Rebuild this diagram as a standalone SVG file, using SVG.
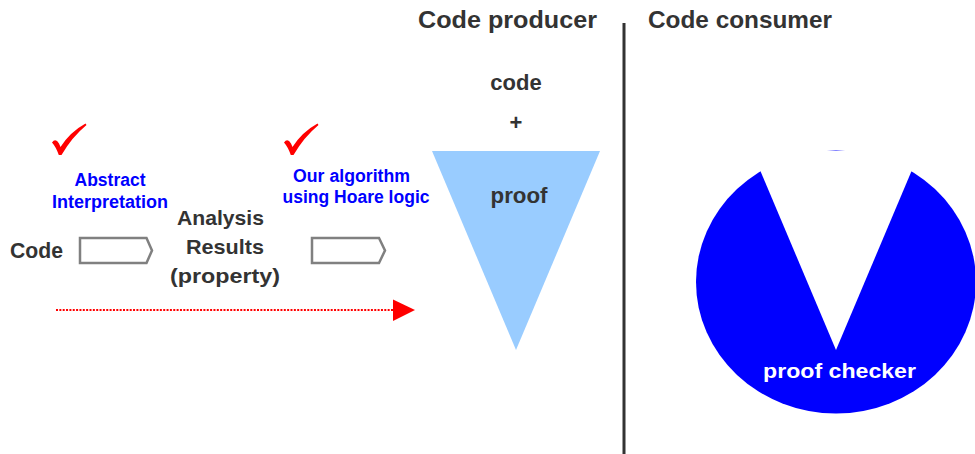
<svg xmlns="http://www.w3.org/2000/svg" width="975" height="454" viewBox="0 0 975 454">
<defs>
<style>
.t{font-family:"Liberation Sans",Arial,sans-serif;font-weight:bold;fill:#333333}
.b{font-family:"Liberation Sans",Arial,sans-serif;font-weight:bold;fill:#0000ff;font-size:17.5px}
.chev{fill:#ffffff;stroke:#808080;stroke-width:2.5}
.chk{fill:#ff0000}
</style>
<path id="check" d="M52 142.5 Q55.5 137.5 59 143.5 L60.5 147 Q70 132 85.5 123.5 L86.5 125 Q72 137 61.5 155 L58.8 155 Q56 147 52 142.5 Z"/>
</defs>
<rect width="975" height="454" fill="#ffffff"/>
<g id="titles">
<text class="t" x="418" y="28" font-size="24.5" textLength="179" lengthAdjust="spacingAndGlyphs">Code producer</text>
<text class="t" x="648" y="28" font-size="24.5" textLength="184" lengthAdjust="spacingAndGlyphs">Code consumer</text>
</g>
<g id="divider"><line x1="624" y1="23" x2="624" y2="454" stroke="#333333" stroke-width="3"/></g>
<g id="code-label"><text class="t" x="10" y="257.5" font-size="22" textLength="53" lengthAdjust="spacingAndGlyphs">Code</text></g>
<g id="check1"><use href="#check" class="chk"/></g>
<g id="check2"><use href="#check" class="chk" transform="translate(232,0)"/></g>
<g id="abstract-interpretation">
<text class="b" x="110" y="186" text-anchor="middle">Abstract</text>
<text class="b" x="110" y="208" text-anchor="middle" textLength="116" lengthAdjust="spacingAndGlyphs">Interpretation</text>
</g>
<g id="our-algorithm">
<text class="b" x="351.5" y="182" text-anchor="middle" textLength="117" lengthAdjust="spacingAndGlyphs">Our algorithm</text>
<text class="b" x="356" y="203" text-anchor="middle" textLength="147" lengthAdjust="spacingAndGlyphs">using Hoare logic</text>
</g>
<g id="analysis-results">
<text class="t" x="220.5" y="225" font-size="21" text-anchor="middle" textLength="87" lengthAdjust="spacingAndGlyphs">Analysis</text>
<text class="t" x="225" y="254" font-size="21" text-anchor="middle" textLength="78" lengthAdjust="spacingAndGlyphs">Results</text>
<text class="t" x="225" y="283" font-size="21" text-anchor="middle" textLength="110" lengthAdjust="spacingAndGlyphs">(property)</text>
</g>
<g id="connectors">
<polygon class="chev" points="80,238 146.5,238 152,250.5 146.5,263 80,263"/>
<polygon class="chev" points="312,238 379,238 385,250.5 379,263 312,263"/>
<line x1="56" y1="310" x2="394" y2="310" stroke="#ff0000" stroke-width="2" stroke-dasharray="2 1.35"/>
<polygon points="393,299.5 415,310 393,321" fill="#ff0000"/>
</g>
<g id="producer">
<text class="t" x="516" y="90" font-size="22" text-anchor="middle">code</text>
<text class="t" x="516" y="129.5" font-size="22" text-anchor="middle" font-weight="normal">+</text>
<polygon points="432,151 600,151 516,350" fill="#99ccff"/>
<text class="t" x="519" y="203" font-size="22" text-anchor="middle" textLength="57" lengthAdjust="spacingAndGlyphs">proof</text>
</g>
<g id="consumer">
<ellipse cx="836" cy="282" rx="140" ry="131.4" fill="#0000ff"/>
<polygon points="752,151 920,151 836,350" fill="#ffffff"/>
<text x="839.5" y="378" font-family="Liberation Sans, Arial, sans-serif" font-weight="bold" font-size="21" fill="#ffffff" text-anchor="middle" textLength="153" lengthAdjust="spacingAndGlyphs">proof checker</text>
</g>
</svg>
